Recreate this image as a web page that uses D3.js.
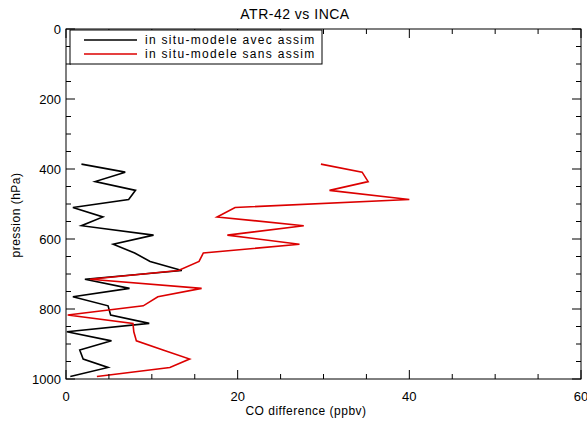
<!DOCTYPE html>
<html><head><meta charset="utf-8">
<script src="https://cdn.jsdelivr.net/npm/d3@7"></script>
<style>body{margin:0;background:#fff}svg{display:block}text{font-family:"Liberation Sans",Arial,sans-serif;fill:#000}</style>
</head><body><svg id="c" width="587" height="425"></svg>
<script>
const title = "ATR-42 vs INCA";
const xTitle = "CO difference (ppbv)";
const yTitle = "pression (hPa)";
const seriesNames = ["in situ-modele avec assim", "in situ-modele sans assim"];
const seriesColors = ["#000000", "#dc0000"];
const pressure = [386, 409, 436, 461, 487, 510, 537, 562, 589, 615, 640, 664, 690, 715, 741, 765, 791, 817, 841, 865, 891, 917, 943, 967, 993];
const avecAssim = [1.8, 6.9, 3.4, 8.1, 7.3, 0.8, 4.3, 1.8, 10.2, 5.5, 8.0, 9.8, 13.5, 2.2, 7.4, 0.8, 4.9, 5.2, 9.7, 0.1, 5.3, 1.6, 2.0, 4.9, 0.5];
const sansAssim = [29.7, 34.5, 35.2, 30.7, 40.0, 19.7, 17.6, 27.7, 18.8, 27.2, 16.0, 15.5, 13.1, 2.8, 15.8, 10.7, 9.0, 0.2, 7.8, 7.9, 8.2, 11.3, 14.4, 12.1, 3.6];
const xTicks = [0, 20, 40, 60];
const yTicks = [0, 200, 400, 600, 800, 1000];

const L = 66, R = 581, T = 29, B = 379;
const svg = d3.select("#c");
const x = d3.scaleLinear().domain([0, 60]).range([L, R]);
const y = d3.scaleLinear().domain([0, 1000]).range([T, B]);

// data lines
const line = d3.line().x(d => x(d[0])).y(d => y(d[1]));
[avecAssim, sansAssim].forEach((s, i) => {
  svg.append("path").datum(s.map((v, j) => [v, pressure[j]]))
    .attr("d", line).attr("fill", "none").attr("stroke", seriesColors[i])
    .attr("stroke-width", 1.6).attr("stroke-linejoin", "miter");
});

// frame
svg.append("rect").attr("x", L).attr("y", T).attr("width", R - L).attr("height", B - T)
  .attr("fill", "none").attr("stroke", "#000").attr("stroke-width", 1);

// axes with inward ticks
const xMinor = d3.range(0, 61, 5);
const yMinor = d3.range(0, 1001, 50);
const gx = svg.append("g");
xMinor.forEach(v => {
  const len = xTicks.includes(v) ? 9 : 5;
  gx.append("line").attr("x1", x(v)).attr("x2", x(v)).attr("y1", B).attr("y2", B - len).attr("stroke", "#000");
  gx.append("line").attr("x1", x(v)).attr("x2", x(v)).attr("y1", T).attr("y2", T + len).attr("stroke", "#000");
});
yMinor.forEach(v => {
  const len = yTicks.includes(v) ? 9 : 5;
  gx.append("line").attr("y1", y(v)).attr("y2", y(v)).attr("x1", L).attr("x2", L + len).attr("stroke", "#000");
  gx.append("line").attr("y1", y(v)).attr("y2", y(v)).attr("x1", R).attr("x2", R - len).attr("stroke", "#000");
});
xTicks.forEach(v => {
  svg.append("text").attr("x", x(v)).attr("y", B + 22).attr("text-anchor", "middle")
    .attr("font-size", 13).text(v);
});
yTicks.forEach(v => {
  svg.append("text").attr("x", L - 5).attr("y", y(v) + 5).attr("text-anchor", "end")
    .attr("font-size", 13).text(v);
});

svg.append("text").attr("x", 295).attr("y", 19).attr("text-anchor", "middle").attr("font-size", 14)
  .attr("letter-spacing", 0.5).text(title);
svg.append("text").attr("x", 306).attr("y", 415).attr("text-anchor", "middle").attr("font-size", 12)
  .attr("letter-spacing", 0.5).text(xTitle);
svg.append("text").attr("transform", "translate(20,215) rotate(-90)").attr("text-anchor", "middle").attr("font-size", 12)
  .attr("letter-spacing", 0.5).text(yTitle);

// legend
const lg = svg.append("g");
lg.append("rect").attr("x", 70).attr("y", 30).attr("width", 252).attr("height", 34)
  .attr("fill", "#fff").attr("stroke", "#000").attr("stroke-width", 1);
seriesNames.forEach((n, i) => {
  const yy = 40 + i * 14;
  lg.append("line").attr("x1", 84).attr("x2", 137).attr("y1", yy).attr("y2", yy)
    .attr("stroke", seriesColors[i]).attr("stroke-width", 1.6);
  lg.append("text").attr("x", 145).attr("y", yy + 4).attr("font-size", 12)
    .attr("letter-spacing", 1.3).text(n);
});
</script></body></html>
